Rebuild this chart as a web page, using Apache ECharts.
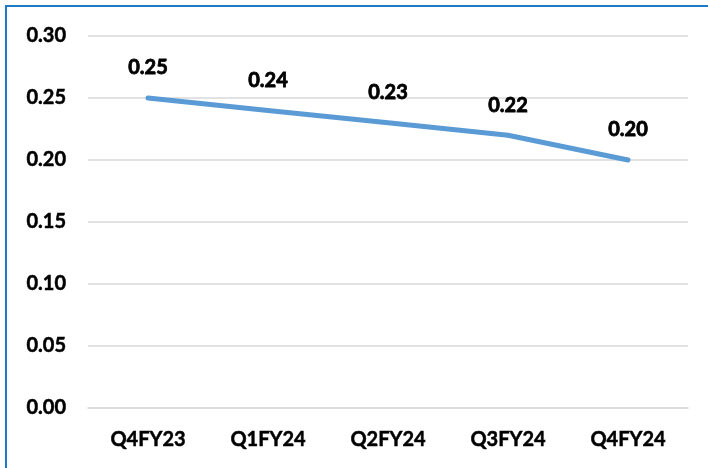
<!DOCTYPE html>
<html>
<head>
<meta charset="utf-8">
<script src="https://cdn.jsdelivr.net/npm/echarts@6/dist/echarts.min.js"></script>
<style>
  html, body { margin: 0; padding: 0; background: #fff; }
  #chart { width: 708px; height: 468px; }
</style>
</head>
<body>
<div id="chart"></div>
<script>
// Quarterly values
const quarters = ['Q4FY23', 'Q1FY24', 'Q2FY24', 'Q3FY24', 'Q4FY24'];
const values = [0.25, 0.24, 0.23, 0.22, 0.20];
const yTicks = { min: 0, max: 0.30, interval: 0.05 };

const FONT = 'Lato';
// heavy black text, slightly stroked for a denser weight
const textStyle = {
  color: '#000', fontFamily: FONT, fontWeight: 'bold', fontSize: 20,
  textBorderColor: '#000', textBorderWidth: 0.5
};
const chart = echarts.init(document.getElementById('chart'), null, { renderer: 'canvas' });

chart.setOption({
  backgroundColor: '#ffffff',
  animation: false,
  grid: { left: 88, right: 20, top: 36, bottom: 60 },
  graphic: [
    // frame: top and left edges
    { type: 'line', shape: { x1: 5, y1: 6, x2: 708, y2: 6 }, style: { stroke: '#1f78c8', lineWidth: 2 } },
    { type: 'line', shape: { x1: 6, y1: 5, x2: 6, y2: 468 }, style: { stroke: '#1f78c8', lineWidth: 2 } }
  ],
  xAxis: {
    type: 'category',
    data: quarters,
    boundaryGap: true,
    axisLine: { show: true, lineStyle: { color: '#d9d9d9', width: 1.5 } },
    axisTick: { show: false },
    axisLabel: Object.assign({ margin: 22 }, textStyle)
  },
  yAxis: {
    type: 'value',
    min: yTicks.min,
    max: yTicks.max,
    interval: yTicks.interval,
    axisLine: { show: false },
    axisTick: { show: false },
    splitLine: { lineStyle: { color: '#d9d9d9', width: 1.5 } },
    axisLabel: Object.assign({ margin: 22, formatter: v => v.toFixed(2) }, textStyle)
  },
  series: [{
    type: 'line',
    data: values,
    showSymbol: true,
    symbol: 'circle',
    symbolSize: 0,
    itemStyle: { color: '#5b9bd5' },
    lineStyle: { color: '#5b9bd5', width: 5, cap: 'round' },
    label: Object.assign({
      show: true,
      position: 'top',
      distance: 20,
      formatter: p => p.value.toFixed(2)
    }, textStyle, { textBorderWidth: 0.8 })
  }]
});
</script>
</body>
</html>
